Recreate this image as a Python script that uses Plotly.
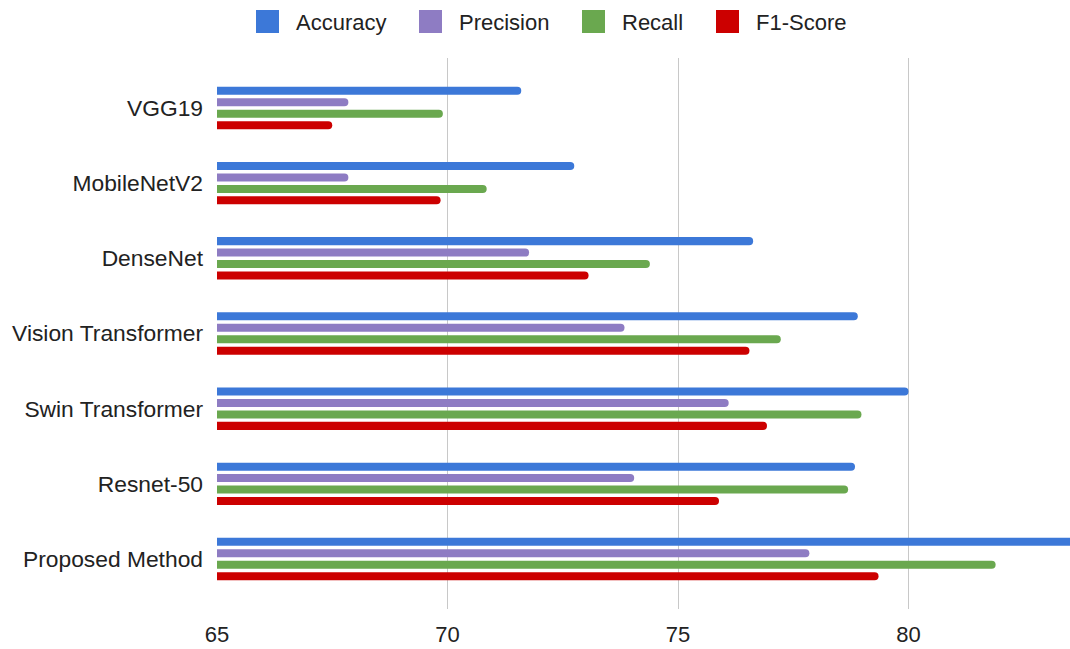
import plotly.graph_objects as go

# Model comparison: classification metrics (%)
models = ["VGG19", "MobileNetV2", "DenseNet", "Vision Transformer",
          "Swin Transformer", "Resnet-50", "Proposed Method"]
accuracy = [71.6, 72.75, 76.63, 78.9, 80.0, 78.84, 84.2]
precision = [67.85, 67.85, 71.77, 73.84, 76.1, 74.05, 77.85]
recall = [69.9, 70.85, 74.39, 77.23, 78.98, 78.69, 81.89]
f1_score = [67.5, 69.85, 73.06, 76.55, 76.93, 75.89, 79.35]

metric_names = ["Accuracy", "Precision", "Recall", "F1-Score"]
metric_values = [accuracy, precision, recall, f1_score]
metric_colors = ["#3c78d8", "#8e7cc3", "#6aa84f", "#cc0000"]

FONT = "Arial, Liberation Sans, sans-serif"
TEXT = "#222222"

W, H = 1070, 649
ML, MR, MT, MB = 217, 0, 58, 40

fig = go.Figure()
for name, vals, color in zip(metric_names, metric_values, metric_colors):
    fig.add_trace(go.Bar(
        y=models, x=vals, name=name, orientation="h",
        marker=dict(color=color, cornerradius=4, line=dict(width=0)),
        showlegend=False,
    ))


def px_x(px):
    return (px - ML) / (W - ML - MR)


def px_y(py):
    return (H - MB - py) / (H - MT - MB)


# Legend row across the top
shapes = []
annotations = []
legend_left = [256, 419, 582, 716]
for name, color, left in zip(metric_names, metric_colors, legend_left):
    shapes.append(dict(
        type="rect", xref="paper", yref="paper",
        x0=px_x(left), x1=px_x(left + 23), y0=px_y(33), y1=px_y(10),
        fillcolor=color, line=dict(width=0), layer="above",
    ))
    annotations.append(dict(
        text=name, xref="paper", yref="paper",
        x=px_x(left + 38), y=px_y(22), xanchor="left", yanchor="middle",
        showarrow=False, font=dict(family=FONT, size=22, color=TEXT),
    ))

fig.update_layout(
    width=W, height=H,
    margin=dict(l=ML, r=MR, t=MT, b=MB, pad=0),
    paper_bgcolor="white", plot_bgcolor="white",
    barmode="group", bargap=0.39, bargroupgap=0.3,
    font=dict(family=FONT, size=22, color=TEXT),
    shapes=shapes, annotations=annotations,
    xaxis=dict(
        range=[65, 65 + (W - ML - MR) / 46.1],
        tickmode="linear", tick0=65, dtick=5,
        showgrid=True, gridcolor="#c8c8c8", gridwidth=1.4,
        zeroline=False, showline=False, ticks="",
        ticklabelstandoff=10,
        tickfont=dict(family=FONT, size=22, color=TEXT),
        fixedrange=True,
    ),
    yaxis=dict(
        categoryorder="array", categoryarray=models,
        range=[6.665, -0.665],
        showgrid=False, zeroline=False, showline=False, ticks="",
        ticklabelstandoff=13,
        tickfont=dict(family=FONT, size=22.8, color=TEXT),
        fixedrange=True,
    ),
)

fig.write_html("out.html")
